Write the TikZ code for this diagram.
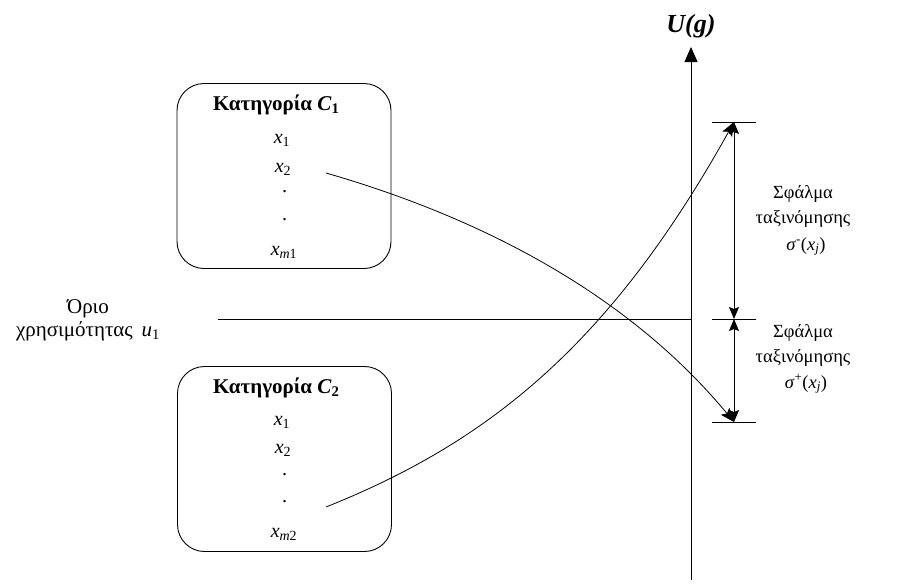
\documentclass[tikz,border=0pt]{standalone}
\usepackage{fontspec}
\setmainfont{Liberation Serif}
\usetikzlibrary{arrows.meta}
\begin{document}
\begin{tikzpicture}[x=1pt,y=-1pt,
  every node/.style={inner sep=0pt, outer sep=0pt},
  ln/.style={line width=0.8pt},
  catbox/.style={draw, line width=0.9pt, rounded corners=27pt, minimum width=214pt, minimum height=185pt},
  ttl/.style={anchor=base west, font=\fontsize{21}{21}\selectfont\bfseries},
  itm/.style={anchor=base, font=\fontsize{20}{20}\selectfont\itshape},
  lbl/.style={anchor=base, font=\fontsize{18.5}{18.5}\selectfont},
  llbl/.style={anchor=base, font=\fontsize{21}{21}\selectfont},
  tip/.style={-{Stealth[length=14pt,width=11pt,inset=3pt]}},
  axtip/.style={-{Triangle[length=15pt,width=13pt]}},
  dtip/.style={{Stealth[length=12pt,width=10pt,inset=2pt]}-{Stealth[length=12pt,width=10pt,inset=2pt]}}
]
\useasboundingbox (0,0) rectangle (900,587);

% boxes
\node[catbox] (box1) at (284,176) {};
\node[catbox] (box2) at (284.5,459) {};

\node[ttl] (t1) at (213,110) {Κατηγορία \textit{C}\textsubscript{1}};
\node[itm] (a1) at (282,143) {x\textsubscript{\upshape 1}};
\node[itm] (a2) at (283,172) {x\textsubscript{\upshape 2}};
\node[itm] (a3) at (285,192) {.};
\node[itm] (a4) at (285,220) {.};
\node[itm] (a5) at (284,255) {x\textsubscript{m\upshape 1}};

\node[ttl] (t2) at (213,393) {Κατηγορία \textit{C}\textsubscript{2}};
\node[itm] (b1) at (282,425) {x\textsubscript{\upshape 1}};
\node[itm] (b2) at (283,453) {x\textsubscript{\upshape 2}};
\node[itm] (b3) at (285,475) {.};
\node[itm] (b4) at (285,502) {.};
\node[itm] (b5) at (284,537) {x\textsubscript{m\upshape 2}};

% axis
\coordinate (ab) at (691,580);
\coordinate (at) at (691,47);
\draw[ln, axtip] (ab) -- (at);
\node[anchor=base, font=\fontsize{26}{26}\selectfont\bfseries\itshape] (ug) at (691,32) {U(g)};

% threshold
\coordinate (hl) at (218,319);
\coordinate (hr) at (691,319);
\draw[ln] (hl) -- (hr);
\node[llbl] (o1) at (88,313) {Όριο};
\node[llbl] (o2) at (88,336) {χρησιμότητας \,\textit{u}\textsubscript{1}};

% ticks
\coordinate (k1a) at (712,122); \coordinate (k1b) at (756,122);
\coordinate (k2a) at (712,319); \coordinate (k2b) at (756,319);
\coordinate (k3a) at (712,422); \coordinate (k3b) at (756,422);
\draw[ln] (k1a) -- (k1b);
\draw[ln] (k2a) -- (k2b);
\draw[ln] (k3a) -- (k3b);

\coordinate (m1) at (734,122);
\coordinate (m2) at (734,319);
\coordinate (m3) at (734,422);
\draw[ln, dtip] (m1) -- (m2);
\draw[ln, dtip] (m2) -- (m3);

% curves
\coordinate (s1) at (326,173);
\coordinate (s2) at (326,507);
\draw[ln, tip] (s1) .. controls (503,224) and (639,307) .. (m3);
\draw[ln, tip] (s2) .. controls (486,443) and (609,347) .. (m1);

% error labels
\node[lbl] (e1a) at (803,198) {Σφάλμα};
\node[lbl] (e1b) at (803,223) {ταξινόμησης};
\node[lbl] (e1c) at (806,250) {\textit{σ}\textsuperscript{-}(\textit{x}\textsubscript{\textit{j}})};
\node[lbl] (e2a) at (803,337) {Σφάλμα};
\node[lbl] (e2b) at (803,362) {ταξινόμησης};
\node[lbl] (e2c) at (806,388) {\textit{σ}\textsuperscript{+}(\textit{x}\textsubscript{\textit{j}})};
\end{tikzpicture}
\end{document}
